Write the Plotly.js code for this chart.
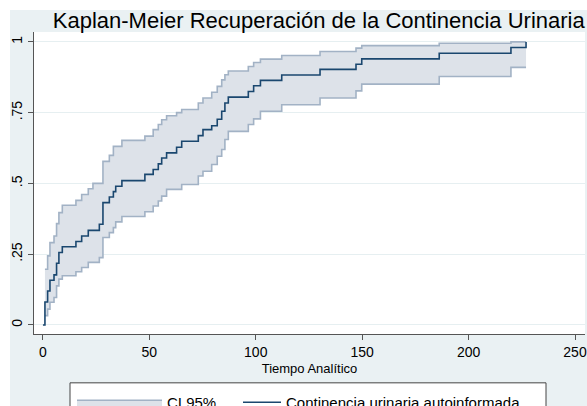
<!DOCTYPE html>
<html>
<head>
<meta charset="utf-8">
<script src="https://cdn.plot.ly/plotly-3.0.1.min.js"></script>
<style>html,body{margin:0;padding:0;background:#fff;overflow:hidden;}#chart{width:587px;height:420px;}</style>
</head>
<body>
<div id="chart"></div>
<script>
const time = [0, 0.94, 2.2, 3.3, 5.2, 6.4, 7.5, 9.1, 15.5, 18.2, 21.3, 23.5, 26.5, 28.2, 31.2, 33.1, 34.2, 37.1, 47.9, 51.8, 54.2, 55.8, 58.1, 62.8, 65.2, 73, 75.2, 79.3, 81.9, 84, 85.5, 87.1, 96.5, 99, 102.2, 112.2, 130.2, 147.1, 149.8, 186.2, 219.9, 227];
const survival = [0, 0.081, 0.12, 0.158, 0.177, 0.218, 0.256, 0.276, 0.295, 0.314, 0.334, 0.334, 0.356, 0.432, 0.452, 0.471, 0.49, 0.51, 0.532, 0.549, 0.569, 0.59, 0.608, 0.628, 0.649, 0.669, 0.69, 0.704, 0.727, 0.755, 0.784, 0.805, 0.825, 0.845, 0.864, 0.883, 0.903, 0.921, 0.94, 0.96, 0.98, 1.0];
const ciTime = time.slice(1);
const upperCI = [0.197, 0.244, 0.291, 0.314, 0.358, 0.397, 0.423, 0.44, 0.461, 0.481, 0.50, 0.50, 0.578, 0.599, 0.631, 0.631, 0.652, 0.667, 0.69, 0.708, 0.725, 0.739, 0.75, 0.761, 0.784, 0.802, 0.822, 0.843, 0.866, 0.884, 0.897, 0.913, 0.927, 0.939, 0.952, 0.966, 0.978, 0.987, 0.995, 1.0, 1.0];
const lowerCI = [0.033, 0.056, 0.08, 0.097, 0.138, 0.162, 0.174, 0.188, 0.203, 0.221, 0.221, 0.238, 0.309, 0.326, 0.344, 0.364, 0.383, 0.40, 0.42, 0.438, 0.455, 0.479, 0.479, 0.496, 0.526, 0.543, 0.567, 0.596, 0.62, 0.655, 0.684, 0.708, 0.728, 0.755, 0.778, 0.802, 0.827, 0.851, 0.878, 0.91, 0.91];
const xTicks = [0, 50, 100, 150, 200, 250];
const yTicks = [0, 0.25, 0.5, 0.75, 1];
const yTickLabels = ["0", ".25", ".5", ".75", "1"];
const titleText = "Kaplan-Meier Recuperación de la Continencia Urinaria";
const xTitle = "Tiempo Analítico";
const ciName = "CI 95%";
const curveName = "Continencia urinaria autoinformada";

const font = "Liberation Sans, Arial, Helvetica, sans-serif";
const ciLine = "#a2b2c5";
const ciFill = "#dde2e9";
const mainColor = "#1a476f";
const bg = "#eaf1f3";

const traces = [
  {x: ciTime, y: lowerCI, type: "scatter", mode: "lines", line: {shape: "hv", color: ciLine, width: 1.6}, showlegend: false, hoverinfo: "skip"},
  {x: ciTime, y: upperCI, type: "scatter", mode: "lines", line: {shape: "hv", color: ciLine, width: 1.6}, fill: "tonexty", fillcolor: ciFill, name: ciName, legend: "legend"},
  {x: time, y: survival, type: "scatter", mode: "lines", line: {shape: "hv", color: mainColor, width: 1.6}, name: curveName, legend: "legend2"}
];

const H = 420;
const W = 587;
const plotL = 34, plotR = 585, plotT = 32, plotB = 335;
const pw = plotR - plotL, ph = plotB - plotT;
const px = v => (v - plotL) / pw;
const py = v => (plotB - v) / ph;

const layout = {
  width: W, height: H,
  margin: {l: plotL, r: W - plotR, t: plotT, b: H - plotB},
  paper_bgcolor: "#ffffff",
  plot_bgcolor: "rgba(0,0,0,0)",
  font: {family: font, color: "#000", size: 13},
  title: {text: titleText, font: {family: font, size: 22, color: "#000"}, xref: "container", x: 0.543, xanchor: "center", yref: "container", y: 1 - 20 / H, yanchor: "middle"},
  xaxis: {
    range: [-4.2, 254.7], tickvals: xTicks, ticks: "outside", ticklen: 5, tickcolor: "#555", tickwidth: 1,
    showline: true, linecolor: "#555", linewidth: 1, showgrid: false, zeroline: false,
    tickfont: {size: 14, family: font},
    title: {text: xTitle, font: {size: 13, family: font}, standoff: 5}
  },
  yaxis: {
    range: [-0.032, 1.035], tickvals: yTicks, ticktext: yTickLabels, tickangle: -90, ticks: "outside", ticklen: 5, tickcolor: "#555", tickwidth: 1,
    showline: true, linecolor: "#555", linewidth: 1, showgrid: true, gridcolor: "#e6eff1", gridwidth: 1, zeroline: false,
    tickfont: {size: 14, family: font}
  },
  shapes: [
    {type: "rect", xref: "paper", yref: "paper", x0: px(10), x1: px(590), y0: py(440), y1: py(10), fillcolor: bg, line: {width: 0}, layer: "below"},
    {type: "rect", xref: "paper", yref: "paper", x0: 0, x1: 1, y0: 0, y1: 1, fillcolor: "#ffffff", line: {width: 0}, layer: "below"},
    {type: "rect", xref: "paper", yref: "paper", x0: px(70), x1: px(546), y0: py(440), y1: py(384), fillcolor: "#ffffff", line: {width: 1, color: "#444"}, layer: "below"}
  ],
  showlegend: true,
  legend: {
    orientation: "h", xref: "paper", yref: "paper", x: px(72), xanchor: "left", y: py(386), yanchor: "top",
    bgcolor: "rgba(0,0,0,0)", borderwidth: 0,
    font: {size: 15, family: font}, itemwidth: 85
  },
  legend2: {
    orientation: "h", xref: "paper", yref: "paper", x: px(238), xanchor: "left", y: py(386), yanchor: "top",
    bgcolor: "rgba(0,0,0,0)", borderwidth: 0,
    font: {size: 15, family: font}, itemwidth: 38
  }
};

Plotly.newPlot("chart", traces, layout, {staticPlot: true, displayModeBar: false});
</script>
</body>
</html>
